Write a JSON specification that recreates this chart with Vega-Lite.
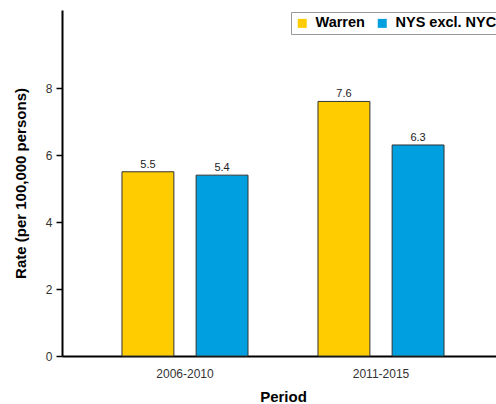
{
  "$schema": "https://vega.github.io/schema/vega-lite/v6.json",
  "autosize": "none",
  "width": 434,
  "height": 346,
  "padding": {"left": 62, "top": 10, "right": 0, "bottom": 48},
  "background": "white",
  "config": {"view": {"stroke": null}, "font": "Liberation Sans"},
  "data": {"values": [
    {"period": "2006-2010", "region": "Warren", "rate": 5.5},
    {"period": "2006-2010", "region": "NYS excl. NYC", "rate": 5.4},
    {"period": "2011-2015", "region": "Warren", "rate": 7.6},
    {"period": "2011-2015", "region": "NYS excl. NYC", "rate": 6.3}
  ]},
  "encoding": {
    "x": {"field": "period", "type": "nominal", "title": "Period",
      "scale": {"range": [0, 442], "paddingInner": 0.357, "paddingOuter": 0.306},
      "axis": {"labelAngle": 0, "ticks": false, "domainColor": "#000", "domainWidth": 2, "labelFontSize": 12, "labelColor": "#333", "labelPadding": 12, "titleFontSize": 15, "titleFontWeight": "bold", "titleColor": "#000", "titlePadding": 10}},
    "xOffset": {"field": "region", "sort": ["Warren", "NYS excl. NYC"], "scale": {"paddingInner": 0.3, "paddingOuter": 0}},
    "y": {"field": "rate", "type": "quantitative", "title": "Rate (per 100,000 persons)",
      "scale": {"domain": [0, 10.33], "nice": false},
      "axis": {"values": [0, 2, 4, 6, 8], "grid": false, "domainColor": "#000", "domainWidth": 2, "tickColor": "#000", "tickWidth": 1.5, "tickSize": 6, "labelFontSize": 12, "labelColor": "#333", "labelPadding": 4, "titleFontSize": 15, "titleFontWeight": "bold", "titleColor": "#000", "titlePadding": 17}}
  },
  "layer": [
    {
      "mark": {"type": "bar", "stroke": "#333", "strokeWidth": 1},
      "encoding": {
        "color": {"field": "region", "type": "nominal", "sort": ["Warren", "NYS excl. NYC"],
          "scale": {"domain": ["Warren", "NYS excl. NYC"], "range": ["#FFCC00", "#009FDF"]},
          "legend": {"title": null, "orient": "none", "legendX": 229, "legendY": 2, "direction": "horizontal",
            "symbolType": "square", "symbolSize": 81, "symbolStrokeWidth": 0, "labelFontSize": 14.5, "labelFontWeight": "bold", "labelColor": "#000",
            "strokeColor": "#999", "padding": 4, "columnPadding": 10, "labelOffset": 6, "fillColor": "white"}}
      }
    },
    {
      "mark": {"type": "text", "dy": -7, "fontSize": 11, "color": "#222"},
      "encoding": {
        "text": {"field": "rate", "type": "quantitative", "format": ".1f"}
      }
    }
  ]
}
